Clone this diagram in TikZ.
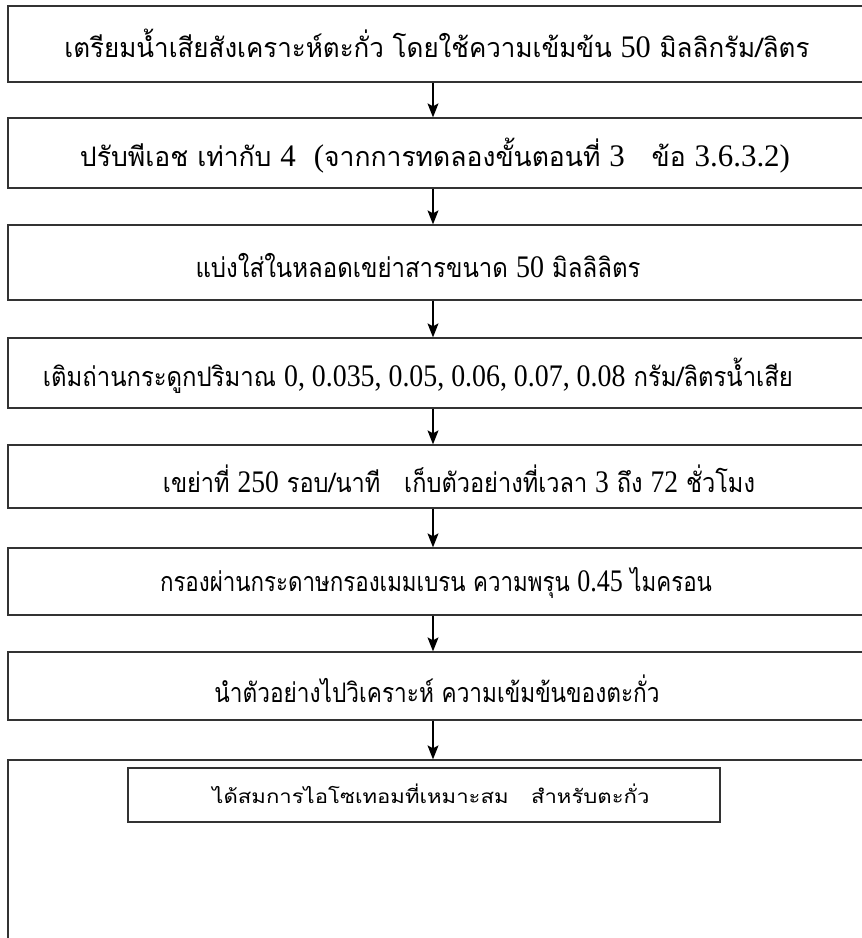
\documentclass[tikz,border=0pt]{standalone}
\usepackage{fontspec}
\usepackage{graphicx}
\usetikzlibrary{arrows.meta}
\newfontfamily\thai[Script=Thai]{Loma}
\newfontfamily\lat{Liberation Serif}
\newcommand\fitw[2]{\resizebox{#1}{1.12\height}{#2}}
\newcommand\num[1]{{\lat\fontsize{28}{30}\selectfont #1}}
\newcommand\snum[1]{{\lat\fontsize{20}{22}\selectfont #1}}
\begin{document}
\begin{tikzpicture}[x=1pt,y=-1pt,
  stepbox/.style={draw=black!80, line width=1.3pt, inner sep=0pt},
  lbl/.style={inner sep=0pt, font=\thai\fontsize{24}{28}\selectfont, anchor=center},
  smalllbl/.style={inner sep=0pt, font=\thai\fontsize{17}{20}\selectfont, anchor=center},
  flow/.style={line width=1.2pt, -{Stealth[length=14pt,width=11pt,inset=3pt]}}]
\useasboundingbox (0,0) rectangle (862,938);
\clip (0,0) rectangle (862,938);
% boxes (open at the right: they run past the picture's edge)
\node[stepbox, minimum width=872pt, minimum height=76pt] (b1) at (444,44) {};
\node[stepbox, minimum width=872pt, minimum height=70pt] (b2) at (444,153) {};
\node[stepbox, minimum width=872pt, minimum height=75pt] (b3) at (444,262.5) {};
\node[stepbox, minimum width=872pt, minimum height=70pt] (b4) at (444,373) {};
\node[stepbox, minimum width=872pt, minimum height=63pt] (b5) at (444,476.5) {};
\node[stepbox, minimum width=872pt, minimum height=67pt] (b6) at (444,581.5) {};
\node[stepbox, minimum width=872pt, minimum height=68pt] (b7) at (444,686) {};
\node[stepbox, minimum width=872pt, minimum height=200pt] (b8) at (444,860) {};
\node[stepbox, minimum width=592pt, minimum height=54pt] (b9) at (424,795) {};
% texts
\node[lbl] (t1) at (437,43) {\fitw{745pt}{เตรียมน้ำเสียสังเคราะห์ตะกั่ว โดยใช้ความเข้มข้น \num{50} มิลลิกรัม/ลิตร}};
\node[lbl] (t2) at (435,156) {\fitw{710pt}{ปรับพีเอช เท่ากับ \num{4}\ \ \num{(}จากการทดลองขั้นตอนที่ \num{3}\ \ \ ข้อ \num{3.6.3.2)}}};
\node[lbl] (t3) at (418,266) {\fitw{445pt}{แบ่งใส่ในหลอดเขย่าสารขนาด \num{50} มิลลิลิตร}};
\node[lbl] (t4) at (418,376) {\fitw{750pt}{เติมถ่านกระดูกปริมาณ \num{0, 0.035, 0.05, 0.06, 0.07, 0.08} กรัม/ลิตรน้ำเสีย}};
\node[lbl] (t5) at (459,479) {\fitw{592pt}{เขย่าที่ \num{250} รอบ/นาที\ \ \ เก็บตัวอย่างที่เวลา \num{3} ถึง \num{72} ชั่วโมง}};
\node[lbl] (t6) at (436,583) {\fitw{552pt}{กรองผ่านกระดาษกรองเมมเบรน ความพรุน \num{0.45} ไมครอน}};
\node[lbl] (t7) at (437,689) {\fitw{445pt}{นำตัวอย่างไปวิเคราะห์ ความเข้มข้นของตะกั่ว}};
\node[smalllbl] (t8) at (431,794) {\fitw{437pt}{ได้สมการไอโซเทอมที่เหมาะสม\ \ \ สำหรับตะกั่ว}};
% connectors
\coordinate (ax) at (433,0);
\draw[flow] (b1.south -| ax) -- (b2.north -| ax);
\draw[flow] (b2.south -| ax) -- (b3.north -| ax);
\draw[flow] (b3.south -| ax) -- (b4.north -| ax);
\draw[flow] (b4.south -| ax) -- (b5.north -| ax);
\draw[flow] (b5.south -| ax) -- (b6.north -| ax);
\draw[flow] (b6.south -| ax) -- (b7.north -| ax);
\draw[flow] (b7.south -| ax) -- (b8.north -| ax);
\end{tikzpicture}
\end{document}
